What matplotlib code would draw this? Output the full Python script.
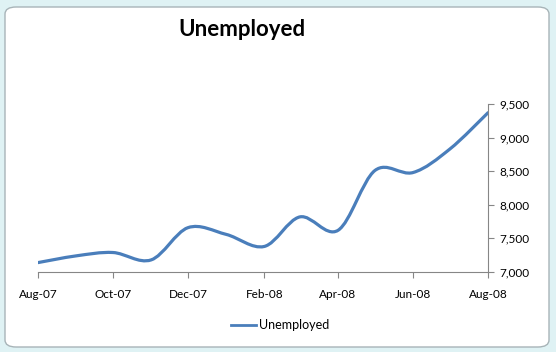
import numpy as np
import matplotlib
matplotlib.use("Agg")
import matplotlib.pyplot as plt
import matplotlib.dates as mdates
from matplotlib.path import Path
from matplotlib.patches import PathPatch, FancyBboxPatch
from matplotlib.lines import Line2D
import datetime as dt

months = ["2007-08", "2007-09", "2007-10", "2007-11", "2007-12", "2008-01", "2008-02",
          "2008-03", "2008-04", "2008-05", "2008-06", "2008-07", "2008-08"]
unemployed = [7140, 7240, 7290, 7180, 7660, 7560, 7380, 7820, 7620, 8510, 8480, 8830, 9370]
tick_months = ["2007-08", "2007-10", "2007-12", "2008-02", "2008-04", "2008-06", "2008-08"]
tick_labels = ["Aug-07", "Oct-07", "Dec-07", "Feb-08", "Apr-08", "Jun-08", "Aug-08"]
y_ticks = [7000, 7500, 8000, 8500, 9000, 9500]

blue = "#4A7EBB"
grey = "#868686"
font = "Lato"


def to_num(m):
    return mdates.date2num(dt.datetime.strptime(m, "%Y-%m"))


def smooth_path(x, y):
    # excel style smoothed line: cubic bezier through every point
    x = np.asarray(x, float)
    y = np.asarray(y, float)
    n = len(x)
    verts = [(x[0], y[0])]
    codes = [Path.MOVETO]
    for i in range(n - 1):
        p0 = i - 1 if i > 0 else i
        p3 = i + 2 if i + 2 < n else i + 1
        c1 = (x[i] + (x[i + 1] - x[p0]) / 6, y[i] + (y[i + 1] - y[p0]) / 6)
        c2 = (x[i + 1] - (x[p3] - x[i]) / 6, y[i + 1] - (y[p3] - y[i]) / 6)
        verts += [c1, c2, (x[i + 1], y[i + 1])]
        codes += [Path.CURVE4] * 3
    return Path(verts, codes)


fig = plt.figure(figsize=(5.56, 3.52), dpi=100)
fig.patch.set_facecolor("#dff2f4")

frame = FancyBboxPatch((5 / 556, 5 / 352), 544 / 556, 340 / 352,
                       boxstyle="round,pad=0,rounding_size=0.02",
                       transform=fig.transFigure, facecolor="white",
                       edgecolor="#a8b4b8", linewidth=1.0, zorder=-5)
fig.patches.append(frame)

ax = fig.add_axes([38 / 556, 1 - 272 / 352, 450 / 556, 168 / 352])
ax.patch.set_alpha(0)

xs = [to_num(m) for m in months]
ax.add_patch(PathPatch(smooth_path(xs, unemployed), facecolor="none",
                       edgecolor=blue, linewidth=2.3, capstyle="round"))

ax.set_xlim(xs[0], xs[-1])
ax.set_ylim(7000, 9500)

ax.set_xticks([to_num(m) for m in tick_months])
ax.set_xticklabels(tick_labels, fontfamily=font, fontsize=8.5)
ax.set_yticks(y_ticks)
ax.set_yticklabels([f"{v:,}" for v in y_ticks], fontfamily=font, fontsize=8.5)

ax.yaxis.tick_right()
for side in ["top", "left"]:
    ax.spines[side].set_visible(False)
for side in ["bottom", "right"]:
    ax.spines[side].set_color(grey)
    ax.spines[side].set_linewidth(0.8)
ax.tick_params(axis="both", direction="out", length=4, color=grey, width=0.8)
ax.tick_params(axis="x", pad=8)
ax.tick_params(axis="y", pad=4)

fig.text(242 / 556, 1 - 30 / 352, "Unemployed", ha="center", va="center",
         fontfamily=font, fontweight="bold", fontsize=16)

handle = Line2D([], [], color=blue, linewidth=2.0)
fig.legend([handle], ["Unemployed"], loc="center", bbox_to_anchor=(280 / 556, 1 - 325 / 352),
           frameon=False, prop={"family": font, "size": 9}, handlelength=2.0,
           handletextpad=0.2)

fig.savefig("out.png", dpi=100, facecolor=fig.get_facecolor())
